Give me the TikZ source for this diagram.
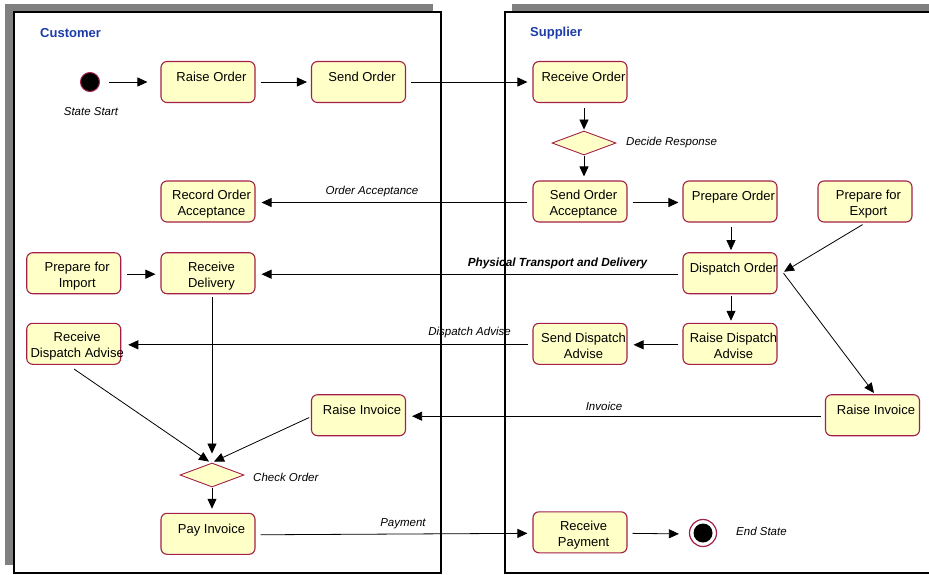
\documentclass[tikz,border=0pt]{standalone}
\usepackage{fontspec}
\setmainfont{Liberation Sans}
\usetikzlibrary{arrows.meta,shapes.geometric}
\definecolor{nodeborder}{HTML}{A3204A}
\definecolor{nodefill}{HTML}{FFFFC8}
\definecolor{lanetitle}{HTML}{1E3CA8}
\definecolor{shadowgray}{HTML}{808080}
\tikzset{
  state/.style={draw=nodeborder, fill=nodefill, line width=1.1pt, rounded corners=6pt,
    minimum width=94pt, minimum height=41pt, inner sep=0pt},
  statetext/.style={font=\fontsize{13}{16}\selectfont, align=center, inner sep=0pt,
    xshift=3.5pt, yshift=-2.5pt},
  decision/.style={draw=nodeborder, fill=nodefill, line width=0.9pt, diamond, aspect=2.67,
    minimum width=64pt, minimum height=24pt, inner sep=0pt},
  edgelabel/.style={font=\fontsize{11.5}{13}\selectfont\itshape, inner sep=0pt},
  lanetitlestyle/.style={font=\fontsize{13}{15}\selectfont\bfseries, text=lanetitle, inner sep=0pt, anchor=west},
  arr/.style={draw=black, line width=0.8pt, -{Triangle[length=10pt,width=9pt]}},
}
\begin{document}
\begin{tikzpicture}[x=1pt,y=-1pt]
\useasboundingbox (0,0) rectangle (929,574);
\clip (0,0) rectangle (929,574);
% lanes
\fill[shadowgray] (5,4) rectangle (433,565);
\draw[fill=white, line width=1.2pt] (14,12) rectangle (441,573);
\fill[shadowgray] (512,4) rectangle (945,565);
\draw[fill=white, line width=1.2pt] (505,12) rectangle (950,573);
\node[lanetitlestyle] (custtitle) at (40,33) {Customer};
\node[lanetitlestyle] (supptitle) at (530,33) {Supplier};

% start / end
\node[circle, draw=nodeborder, fill=black, line width=1pt, minimum size=19pt, inner sep=0pt] (start) at (90,82) {};
\node[edgelabel] (startlbl) at (91,112) {State Start};
\node[circle, draw=nodeborder, fill=white, line width=1.2pt, minimum size=27pt, inner sep=0pt] (endst) at (703,533) {};
\node[circle, fill=black, minimum size=19pt, inner sep=0pt] (endin) at (703,533) {};
\node[edgelabel, anchor=west] (endlbl) at (736,531) {End State};

% states
\node[state, label={[statetext]center:Raise Order\\ ~}] (ro) at (208,82) {};
\node[state, label={[statetext]center:Send Order\\ ~}] (so) at (358.5,82) {};
\node[state, label={[statetext]center:Receive Order\\ ~}] (rco) at (580,82) {};
\node[decision] (dr) at (584,143) {};
\node[edgelabel, anchor=west] (drlbl) at (626,143) {Decide Response};
\node[state, label={[statetext]center:Record Order\\Acceptance}] (roa) at (208,201.5) {};
\node[state, label={[statetext]center:Send Order\\Acceptance}] (soa) at (580,201.5) {};
\node[state, label={[statetext]center:Prepare Order\\ ~}] (po) at (730,201.5) {};
\node[state, label={[statetext]center:Prepare for\\Export}] (pfe) at (865,201.5) {};
\node[state, label={[statetext]center:Prepare for\\Import}] (pfi) at (73.7,273.2) {};
\node[state, label={[statetext]center:Receive\\Delivery}] (rd) at (208,273.2) {};
\node[state, label={[statetext]center:Dispatch Order\\ ~}] (dor) at (730,273.2) {};
\node[state, label={[statetext]center:Receive\\Dispatch Advise}] (rda) at (73.7,343.8) {};
\node[state, label={[statetext]center:Send Dispatch\\Advise}] (sda) at (580,343.8) {};
\node[state, label={[statetext]center:Raise Dispatch\\Advise}] (rsa) at (730,343.8) {};
\node[state, label={[statetext]center:Raise Invoice\\ ~}] (ric) at (358.5,415.2) {};
\node[state, label={[statetext]center:Raise Invoice\\ ~}] (ris) at (872.5,415.2) {};
\node[decision] (co) at (212,475) {};
\node[edgelabel, anchor=west] (colbl) at (253,477) {Check Order};
\node[state, label={[statetext]center:Pay Invoice\\ ~}] (pi) at (208,533.8) {};
\node[state, label={[statetext]center:Receive\\Payment}] (rp) at (580,532.3) {};
\coordinate (dortip) at (784,271.7);
\coordinate (ristip) at (874,393);
\coordinate (rdastart) at (74,369);

% connectors
\draw[arr, shorten <=9pt, shorten >=13pt] (start.east) -- (ro.west);
\draw[arr, shorten <=5pt, shorten >=4pt] (ro.east) -- (so.west);
\draw[arr, shorten <=5pt, shorten >=5pt] (so.east) -- (rco.west);
\draw[arr, shorten <=5pt, shorten >=1pt] ([xshift=4pt]rco.south) -- (dr.north);
\draw[arr, shorten <=1pt, shorten >=4pt] (dr.south) -- ([xshift=4pt]soa.north);
\draw[arr, shorten <=5pt, shorten >=6pt] ([yshift=-1pt]soa.west) -- ([yshift=-1pt]roa.east);
\node[edgelabel] (oalbl) at (372,192) {Order Acceptance};
\draw[arr, shorten <=5pt, shorten >=4pt] ([yshift=-1pt]soa.east) -- ([yshift=-1pt]po.west);
\draw[arr, shorten <=4pt, shorten >=2pt] ([xshift=1pt]po.south) -- ([xshift=1pt]dor.north);
\draw[arr, shorten <=4pt] ([xshift=1pt]pfe.south) -- (dortip);
\draw[arr, shorten <=4pt, shorten >=6pt] ([yshift=-1pt]dor.west) -- ([yshift=-1pt]rd.east);
\node[edgelabel, font=\fontsize{11.8}{13}\selectfont\bfseries\itshape] (ptlbl) at (557.5,263) {Physical Transport and Delivery};
\draw[arr, shorten <=6pt, shorten >=5pt] ([yshift=-1pt]pfi.east) -- ([yshift=-1pt]rd.west);
\draw[arr, shorten <=2pt, shorten >=2pt] ([xshift=1pt]dor.south) -- ([xshift=1pt]rsa.north);
\draw[arr, shorten <=4pt, shorten >=6pt] ([yshift=-1pt]rsa.west) -- ([yshift=-1pt]sda.east);
\draw[arr, shorten <=4pt, shorten >=7pt] ([yshift=-1pt]sda.west) -- ([yshift=-1pt]rda.east);
\node[edgelabel] (dalbl) at (469.5,333) {Dispatch Advise};
\draw[arr] ([xshift=6pt]dor.east) -- (ristip);
\draw[arr, shorten <=4pt, shorten >=6pt] ([yshift=-1pt]ris.west) -- ([yshift=-1pt]ric.east);
\node[edgelabel] (invlbl) at (604,406) {Invoice};
\draw[arr, shorten <=3pt] ([xshift=4pt]rd.south) -- ([yshift=9pt]co.north);
\draw[arr] (rdastart) -- ([xshift=-3pt,yshift=1pt]co.north);
\draw[arr, shorten <=2pt] ([yshift=-1.5pt]ric.west) -- ([xshift=2pt,yshift=1pt]co.north);
\draw[arr, shorten <=1pt, shorten >=4pt] (co.south) -- ([xshift=4pt]pi.north);
\draw[arr, shorten <=5pt, shorten >=5pt] ([yshift=-1pt]pi.east) -- ([yshift=-1pt]rp.west);
\node[edgelabel] (paylbl) at (403,524) {Payment};
\draw[arr, shorten <=5pt, shorten >=10pt] ([yshift=-1pt]rp.east) -- ([yshift=-1pt]endst.west);
\end{tikzpicture}
\end{document}
